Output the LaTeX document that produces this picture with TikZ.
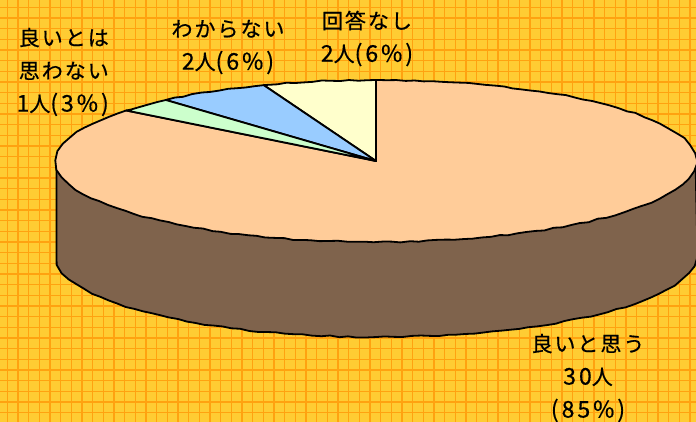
\documentclass[tikz,border=0pt]{standalone}
\usepackage{fontspec}
\usetikzlibrary{decorations.pathmorphing}
\newfontfamily\jp[LetterSpace=9.5,FakeBold=0.6]{Noto Sans CJK JP}
\newfontfamily\jpnum[LetterSpace=13,FakeBold=0.6]{Noto Sans CJK JP}
\newcommand\numtxt[1]{{\jpnum\fontsize{23}{33}\selectfont #1}}
\definecolor{bgyellow}{HTML}{FFCC33}
\definecolor{gridorange}{HTML}{FFA210}
\definecolor{peach}{HTML}{FFCC99}
\definecolor{sidebrown}{HTML}{7F634C}
\definecolor{lblue}{HTML}{99CCFF}
\definecolor{lgreen}{HTML}{CCFFCC}
\definecolor{lyellow}{HTML}{FFFFCC}
\begin{document}
\begin{tikzpicture}[x=1pt,y=1pt,
  edge/.style={draw=black,line width=1.8pt,line join=round},
  wob/.style={decoration={random steps,segment length=9pt,amplitude=0.7pt}},
  gridline/.style={draw=gridorange,line width=1.2pt},
  lbl/.style={font=\jp\fontsize{21}{33}\selectfont,text=black,inner sep=0pt}]
\pgfmathsetseed{7}
\useasboundingbox (0,-422) rectangle (696,0);
\fill[bgyellow] (0,-422) rectangle (696,0);
\foreach \i in {0,...,65} \draw[gridline] ({7.3+\i*10.667},0) -- ++(0,-422);
\foreach \i in {0,...,39} \draw[gridline] (0,{-7.3-\i*10.667}) -- ++(696,0);
\coordinate (C) at (376,-161);
\coordinate (L) at (56.5,-161);
\coordinate (R) at (695.5,-161);
% side of the cylinder
\path[edge,fill=sidebrown] (L) -- ++(0,-95)
  decorate[wob]{arc[start angle=180,end angle=360,x radius=319.5,y radius=81]}
  -- (R) -- cycle;
% slices
\path[edge,fill=peach] (C) -- ++(141.43:319.5 and 81)
  decorate[wob]{arc[start angle=141.43,end angle=450,x radius=319.5,y radius=81]} -- cycle;
\path[edge,fill=lyellow] (C) -- ++(90:319.5 and 81)
  decorate[wob]{arc[start angle=90,end angle=110.57,x radius=319.5,y radius=81]} -- cycle;
\path[edge,fill=lblue] (C) -- ++(110.57:319.5 and 81)
  decorate[wob]{arc[start angle=110.57,end angle=131.14,x radius=319.5,y radius=81]} -- cycle;
\path[edge,fill=lgreen] (C) -- ++(131.14:319.5 and 81)
  decorate[wob]{arc[start angle=131.14,end angle=141.43,x radius=319.5,y radius=81]} -- cycle;
% labels
\node[lbl,align=center] (good) at (588,-378) {良いと思う\\\numtxt{30}人\\\numtxt{(85\%)}};
\node[lbl,align=center] (dunno) at (228,-47) {わからない\\\numtxt{2}人\numtxt{(6\%)}};
\node[lbl,align=center] (noans) at (367,-38.5) {回答なし\\\numtxt{2}人\numtxt{(6\%)}};
\node[lbl,align=right,anchor=east] (notgood) at (109,-72) {良いとは\\思わない\\\numtxt{1}人\numtxt{(3\%)}};
\end{tikzpicture}
\end{document}
